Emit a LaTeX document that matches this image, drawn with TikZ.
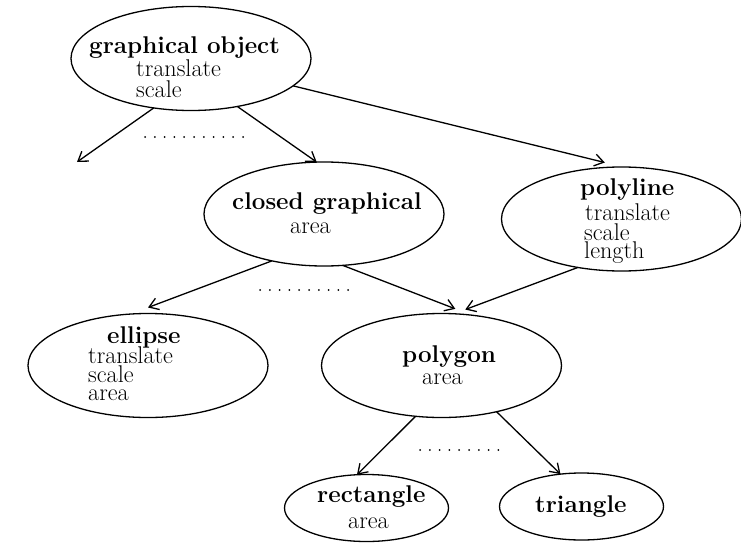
\documentclass[tikz,border=0pt]{standalone}
\usetikzlibrary{shapes.geometric,arrows.meta}
\newcommand\classfont{\fontsize{24.2}{26}\selectfont}
\tikzset{
  cls/.style={ellipse, draw, line width=1.3pt, inner sep=0pt, outer sep=0pt},
  bigcls/.style={cls, minimum width=240pt, minimum height=104pt},
  smallcls/.style={cls, minimum width=164pt, minimum height=67pt},
  title/.style={anchor=base west, inner sep=0pt, font=\classfont\bfseries},
  attr/.style={anchor=base west, inner sep=0pt, font=\classfont},
  link/.style={line width=1.3pt, -{Straight Barb[length=9pt,width=12pt]}},
  dotrow/.style={line width=2pt, line cap=round, dash pattern=on 0pt off 9.8pt},
}
\begin{document}
\begin{tikzpicture}[x=1pt, y=-1pt]
\useasboundingbox (0,0) rectangle (741,543);

% class ellipses
\node[bigcls]   (go) at (191,58.5)    {};
\node[bigcls]   (cg) at (324,214)     {};
\node[bigcls]   (pl) at (621.5,219)   {};
\node[bigcls]   (el) at (148,365.5)   {};
\node[bigcls]   (pg) at (441.5,365.5) {};
\node[smallcls] (re) at (366.5,508)   {};
\node[smallcls] (tr) at (581.5,506.5) {};

% class names and their operations
\node[title] (go-t)  at (89,53)   {graphical object};
\node[attr]  (go-a1) at (136,77)  {translate};
\node[attr]  (go-a2) at (136,97)  {scale};

\node[title] (cg-t)  at (232,209) {closed graphical};
\node[attr]  (cg-a1) at (290,233) {area};

\node[title] (pl-t)  at (580,195) {polyline};
\node[attr]  (pl-a1) at (585,220) {translate};
\node[attr]  (pl-a2) at (584,240) {scale};
\node[attr]  (pl-a3) at (584,258) {length};

\node[title] (el-t)  at (107,343) {ellipse};
\node[attr]  (el-a1) at (88,363)  {translate};
\node[attr]  (el-a2) at (88,382)  {scale};
\node[attr]  (el-a3) at (88,400)  {area};

\node[title] (pg-t)  at (402,362) {polygon};
\node[attr]  (pg-a1) at (422,384) {area};

\node[title] (re-t)  at (317,502) {rectangle};
\node[attr]  (re-a1) at (348,528) {area};

\node[title] (tr-t)  at (535,512) {triangle};

% open end of the leftmost subclass arrow
\coordinate (more) at (77,162);

% inheritance arrows
\draw[link] (go.233) -- (more);
\draw[link] (go.-46) -- (cg.98);
\draw[link] (go.-15) -- ([yshift=5pt]pl.108);
\draw[link] (cg.222) -- ([yshift=6pt]el.90);
\draw[link] (cg.-70) -- ([yshift=5pt]pg.75);
\draw[link] (pl.228) -- ([yshift=5pt]pg.65);
\draw[link] (pg.243) -- (re.106);
\draw[link] (pg.-40) -- (tr.123);

% rows of dots for further subclasses
\coordinate (d1a) at (145,137);
\coordinate (d1b) at (243,137);
\coordinate (d2a) at (260,290);
\coordinate (d2b) at (355,290);
\coordinate (d3a) at (420,450);
\coordinate (d3b) at (505,450);
\draw[dotrow] (d1a) -- (d1b);
\draw[dotrow] (d2a) -- (d2b);
\draw[dotrow] (d3a) -- (d3b);
\end{tikzpicture}
\end{document}
